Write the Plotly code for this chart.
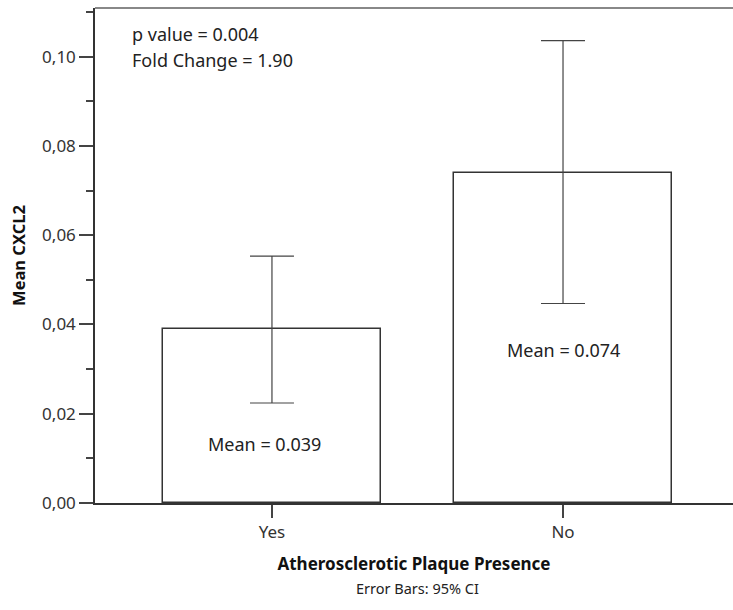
import plotly.graph_objects as go

categories = ["Yes", "No"]
means = [0.039, 0.074]
ci_upper = [0.0553, 0.1036]
ci_lower = [0.0224, 0.0447]
mean_labels = ["Mean = 0.039", "Mean = 0.074"]
mean_label_y = [0.0133, 0.0343]
ytick_vals = [0.0, 0.02, 0.04, 0.06, 0.08, 0.10]
ytick_text = ["0,00", "0,02", "0,04", "0,06", "0,08", "0,10"]

FONT = "Noto Sans"

err_plus = [u - m for u, m in zip(ci_upper, means)]
err_minus = [m - l for m, l in zip(means, ci_lower)]

fig = go.Figure()
fig.add_trace(go.Bar(
    x=[0, 1], y=means, width=0.75,
    marker=dict(color="white", line=dict(color="#333333", width=1.5)),
    error_y=dict(type="data", array=err_plus, arrayminus=err_minus,
                 visible=True, color="#444444", thickness=1.2, width=22),
    showlegend=False, hoverinfo="skip",
))

annotations = []
for i, (lab, yy) in enumerate(zip(mean_labels, mean_label_y)):
    annotations.append(dict(x=i, y=yy, xref="x", yref="y", text=lab, showarrow=False,
                            xshift=-7 if i == 0 else 0,
                            font=dict(family=FONT, size=18, color="#222222")))
for txt, py in [("p value = 0.004", 34), ("Fold Change = 1.90", 60)]:
    annotations.append(dict(x=(130 - 95) / 638, y=(503 - py) / 495,
                            xref="paper", yref="paper", text=txt, showarrow=False,
                            xanchor="left", yanchor="middle",
                            font=dict(family=FONT, size=18, color="#222222")))

annotations.append(dict(x=0.5, y=-(588 - 503) / 495, xref="paper", yref="paper",
                        xanchor="center", yanchor="middle", showarrow=False,
                        text="Error Bars: 95% CI",
                        font=dict(family=FONT, size=14.5, color="#222222"),
                        xshift=(417 - (95 + 319))))

fig.update_layout(
    width=733, height=610,
    margin=dict(l=95, r=0, t=8, b=107),
    plot_bgcolor="white", paper_bgcolor="white",
    bargap=0,
    xaxis=dict(
        range=[-0.608, 1.584], tickmode="array", tickvals=[0, 1], ticktext=categories,
        showline=True, linecolor="#333333", linewidth=1.5,
        ticks="outside", ticklen=13, tickcolor="#444444", tickwidth=1.5,
        tickfont=dict(family=FONT, size=17, color="#333333"),
        showgrid=False, zeroline=False,
        title=dict(text="<b>Atherosclerotic Plaque Presence</b>",
                   font=dict(family=FONT, size=17, color="#111111"), standoff=16),
    ),
    yaxis=dict(
        range=[0, 0.1109], tickmode="array", tickvals=ytick_vals, ticktext=ytick_text,
        showline=True, linecolor="#333333", linewidth=1.5,
        ticks="outside", ticklen=14, tickcolor="#444444", tickwidth=1.5,
        tickfont=dict(family=FONT, size=17, color="#333333"),
        minor=dict(dtick=0.01, tick0=0, ticks="outside", ticklen=7,
                   tickcolor="#444444", tickwidth=1.5),
        showgrid=False, zeroline=False,
        title=dict(text="<b>Mean CXCL2</b>",
                   font=dict(family=FONT, size=16.5, color="#111111"), standoff=12),
    ),
    annotations=annotations,
    shapes=[dict(type="line", xref="paper", yref="paper", x0=0, x1=1, y0=1, y1=1,
                 line=dict(color="#888888", width=2))],
)

fig.write_html("out.html")
